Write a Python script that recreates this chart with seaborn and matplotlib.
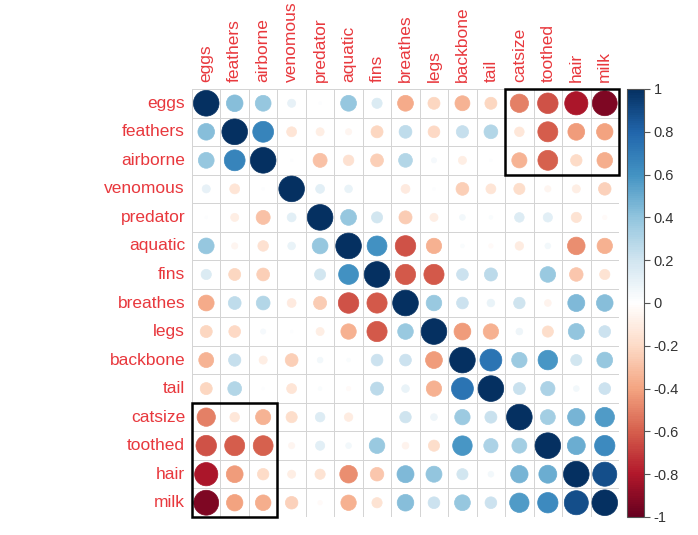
import numpy as np
import pandas as pd
import matplotlib
matplotlib.use("Agg")
import matplotlib.pyplot as plt
import seaborn as sns
from matplotlib.colors import LinearSegmentedColormap, ListedColormap, Normalize
from matplotlib.patches import Circle, Rectangle
from matplotlib.cm import ScalarMappable


# Data: correlation matrix of the zoo attributes
labels = ["eggs", "feathers", "airborne", "venomous", "predator", "aquatic",
          "fins", "breathes", "legs", "backbone", "tail", "catsize",
          "toothed", "hair", "milk"]

eggs = [1, 0.42, 0.38, 0.10, 0.01, 0.38, 0.16, -0.38, -0.22, -0.34, -0.22, -0.51, -0.64, -0.82, -0.94]
feathers = [0.42, 1, 0.66, -0.15, -0.10, -0.06, -0.22, 0.25, -0.21, 0.23, 0.29, -0.14, -0.61, -0.43, -0.41]
airborne = [0.38, 0.66, 1, 0.01, -0.30, -0.17, -0.25, 0.29, 0.04, -0.10, 0.01, -0.35, -0.60, -0.20, -0.37]
venomous = [0.10, -0.15, 0.01, 1, 0.12, 0.09, 0.00, -0.12, 0.01, -0.25, -0.15, -0.19, -0.06, -0.10, -0.24]
predator = [0.01, -0.10, -0.30, 0.12, 1, 0.38, 0.19, -0.26, -0.10, 0.05, 0.02, 0.14, 0.13, -0.16, -0.03]
aquatic = [0.38, -0.06, -0.17, 0.09, 0.38, 1, 0.60, -0.64, -0.36, 0.02, -0.03, -0.11, 0.05, -0.47, -0.36]
fins = [0.16, -0.22, -0.25, 0.00, 0.19, 0.60, 1, -0.62, -0.62, 0.21, 0.26, 0.00, 0.37, -0.28, -0.16]
breathes = [-0.38, 0.25, 0.29, -0.12, -0.26, -0.64, -0.62, 1, 0.37, 0.21, 0.09, 0.20, -0.07, 0.44, 0.42]
legs = [-0.22, -0.21, 0.04, 0.01, -0.10, -0.36, -0.62, 0.37, 1, -0.43, -0.36, 0.07, -0.19, 0.39, 0.21]
backbone = [-0.34, 0.23, -0.10, -0.25, 0.05, 0.02, 0.21, 0.21, -0.43, 1, 0.73, 0.36, 0.58, 0.19, 0.38]
tail = [-0.22, 0.29, 0.01, -0.15, 0.02, -0.03, 0.26, 0.09, -0.36, 0.73, 1, 0.22, 0.31, 0.05, 0.21]
catsize = [-0.51, -0.14, -0.35, -0.19, 0.14, -0.11, 0.00, 0.20, 0.07, 0.36, 0.22, 1, 0.34, 0.46, 0.57]
toothed = [-0.64, -0.61, -0.60, -0.06, 0.13, 0.05, 0.37, -0.07, -0.19, 0.58, 0.31, 0.34, 1, 0.49, 0.63]
hair = [-0.82, -0.43, -0.20, -0.10, -0.16, -0.47, -0.28, 0.44, 0.39, 0.19, 0.05, 0.46, 0.49, 1, 0.88]
milk = [-0.94, -0.41, -0.37, -0.24, -0.03, -0.36, -0.16, 0.42, 0.21, 0.38, 0.21, 0.57, 0.63, 0.88, 1]

# boxes drawn over the matrix: (first row, first col, n rows, n cols)
boxes = [(0, 11, 3, 4), (11, 0, 4, 3)]

cbar_ticks = [-1, -0.8, -0.6, -0.4, -0.2, 0, 0.2, 0.4, 0.6, 0.8, 1]


def build_frame() -> pd.DataFrame:
    rows = [eggs, feathers, airborne, venomous, predator, aquatic, fins,
            breathes, legs, backbone, tail, catsize, toothed, hair, milk]
    return pd.DataFrame(rows, index=labels, columns=labels)


def main() -> None:
    sns.set_theme(style="white")
    plt.rcParams["font.family"] = ["Liberation Sans", "DejaVu Sans"]

    corr = build_frame()
    n = len(labels)

    # corrplot style RdBu palette (white in the middle)
    cmap = LinearSegmentedColormap.from_list(
        "corr_rdbu",
        ["#67001F", "#B2182B", "#D6604D", "#F4A582", "#FDDBC7", "#FFFFFF",
         "#D1E5F0", "#92C5DE", "#4393C3", "#2166AC", "#053061"],
        N=200,
    )
    norm = Normalize(vmin=-1, vmax=1)

    fig = plt.figure(figsize=(6.98, 5.35), dpi=100)
    ax = fig.add_axes([192 / 698, 18 / 535, 427 / 698, 428 / 535])
    cax = fig.add_axes([627 / 698, 18 / 535, 17 / 698, 428 / 535])

    # white grid of cells
    sns.heatmap(
        corr,
        ax=ax,
        cmap=ListedColormap(["white"]),
        cbar=False,
        linewidths=0.6,
        linecolor="#d4d4d4",
    )

    # circles: area proportional to |r|
    for i, row in enumerate(labels):
        for j, col in enumerate(labels):
            r = corr.loc[row, col]
            if abs(r) < 0.005:
                continue
            ax.add_patch(Circle(
                (j + 0.5, i + 0.5),
                radius=0.45 * np.sqrt(abs(r)),
                facecolor=cmap(norm(r)),
                edgecolor=cmap(norm(r)),
                linewidth=0.5,
            ))

    for r0, c0, nr, nc in boxes:
        ax.add_patch(Rectangle((c0, r0), nc, nr, fill=False,
                               edgecolor="black", linewidth=1.8,
                               clip_on=False, zorder=5))

    ax.set_xlim(0, n)
    ax.set_ylim(n, 0)
    ax.xaxis.tick_top()
    ax.set_xticks(np.arange(n) + 0.5)
    ax.set_yticks(np.arange(n) + 0.5)
    ax.set_xticklabels(labels, rotation=90, fontsize=12.5, color="#e8383d")
    ax.set_yticklabels(labels, rotation=0, fontsize=12.5, color="#e8383d")
    ax.tick_params(axis="both", length=0, pad=5)
    ax.set_xlabel("")
    ax.set_ylabel("")
    for spine in ax.spines.values():
        spine.set_visible(False)

    # colour legend
    cb = fig.colorbar(ScalarMappable(norm=norm, cmap=cmap), cax=cax)
    cb.set_ticks(cbar_ticks)
    cb.set_ticklabels([f"{t:g}" for t in cbar_ticks])
    cb.outline.set_edgecolor("#555555")
    cb.outline.set_linewidth(0.8)
    cax.tick_params(axis="y", length=4, width=0.8, color="#555555",
                    labelsize=10.5, labelcolor="#333333", pad=3)

    fig.savefig("out.png", dpi=100)
    plt.close(fig)


if __name__ == "__main__":
    main()
